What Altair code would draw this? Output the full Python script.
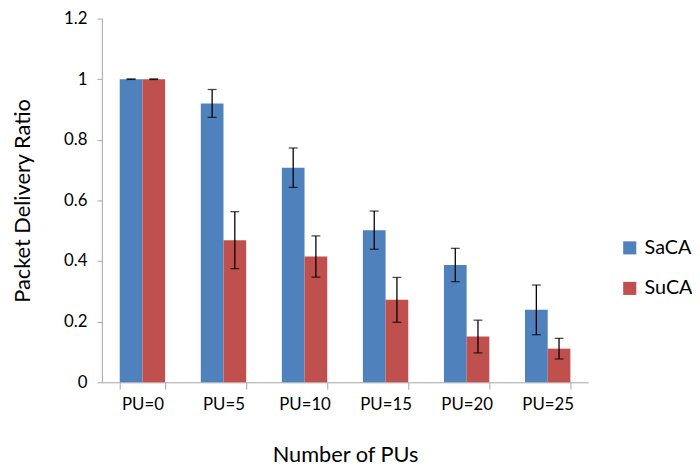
import altair as alt
import pandas as pd

categories = ["PU=0", "PU=5", "PU=10", "PU=15", "PU=20", "PU=25"]
saca = [1.0, 0.92, 0.708, 0.502, 0.387, 0.239]
saca_err = [0.001, 0.046, 0.065, 0.063, 0.055, 0.082]
suca = [1.0, 0.469, 0.415, 0.272, 0.151, 0.111]
suca_err = [0.001, 0.094, 0.068, 0.074, 0.054, 0.034]

rows = []
for c, v, e in zip(categories, saca, saca_err):
    rows.append({"cat": c, "series": "SaCA", "value": v, "lo": v - e, "hi": v + e})
for c, v, e in zip(categories, suca, suca_err):
    rows.append({"cat": c, "series": "SuCA", "value": v, "lo": v - e, "hi": v + e})
df = pd.DataFrame(rows)

FONT = "Lato"

x = alt.X("cat:N", sort=categories, title="Number of PUs",
          scale=alt.Scale(paddingInner=0.44, paddingOuter=0.22),
          axis=alt.Axis(labelAngle=0, tickBand="extent", tickSize=7, labelPadding=8,
                        titlePadding=32, labelFontSize=17, titleFontSize=22,
                        domainColor="#a6a6a6", tickColor="#a6a6a6",
                        labelColor="#000", titleColor="#000", titleFontWeight="normal",
                        labelFont=FONT, titleFont=FONT))
xo = alt.XOffset("series:N", sort=["SaCA", "SuCA"])
yscale = alt.Scale(domain=[0, 1.2])

bars = alt.Chart(df).mark_bar().encode(
    x=x, xOffset=xo,
    y=alt.Y("value:Q", scale=yscale, title="Packet Delivery Ratio",
            axis=alt.Axis(values=[0, 0.2, 0.4, 0.6, 0.8, 1, 1.2], format="~g", grid=False, tickSize=5,
                          labelPadding=10, titlePadding=30, labelFontSize=17, titleFontSize=22,
                          domainColor="#a6a6a6", tickColor="#a6a6a6",
                          labelColor="#000", titleColor="#000", titleFontWeight="normal",
                          labelFont=FONT, titleFont=FONT)),
    color=alt.Color("series:N", sort=["SaCA", "SuCA"],
                    scale=alt.Scale(domain=["SaCA", "SuCA"], range=["#4F81BD", "#C0504D"]),
                    legend=alt.Legend(title=None, orient="none", legendX=524, legendY=222,
                                      symbolType="square", symbolSize=175, symbolStrokeWidth=0,
                                      labelFontSize=20, labelFont=FONT, labelColor="#000",
                                      rowPadding=21, labelOffset=5)),
)

rules = alt.Chart(df).mark_rule(color="#000", strokeWidth=1.3).encode(
    x=x, xOffset=xo, y=alt.Y("lo:Q", scale=yscale), y2="hi:Q")
cap_lo = alt.Chart(df).mark_tick(color="#000", thickness=1.3, size=9).encode(
    x=x, xOffset=xo, y=alt.Y("lo:Q", scale=yscale))
cap_hi = alt.Chart(df).mark_tick(color="#000", thickness=1.3, size=9).encode(
    x=x, xOffset=xo, y=alt.Y("hi:Q", scale=yscale))

chart = alt.layer(bars, rules, cap_lo, cap_hi).properties(
    width=492, height=368,
    autosize=alt.AutoSizeParams(type="none"),
    padding={"left": 95, "top": 8, "right": 105, "bottom": 83},
).configure(font=FONT).configure_view(stroke=None)

chart.save("out.html", embed_options={"renderer": "svg", "actions": False})
